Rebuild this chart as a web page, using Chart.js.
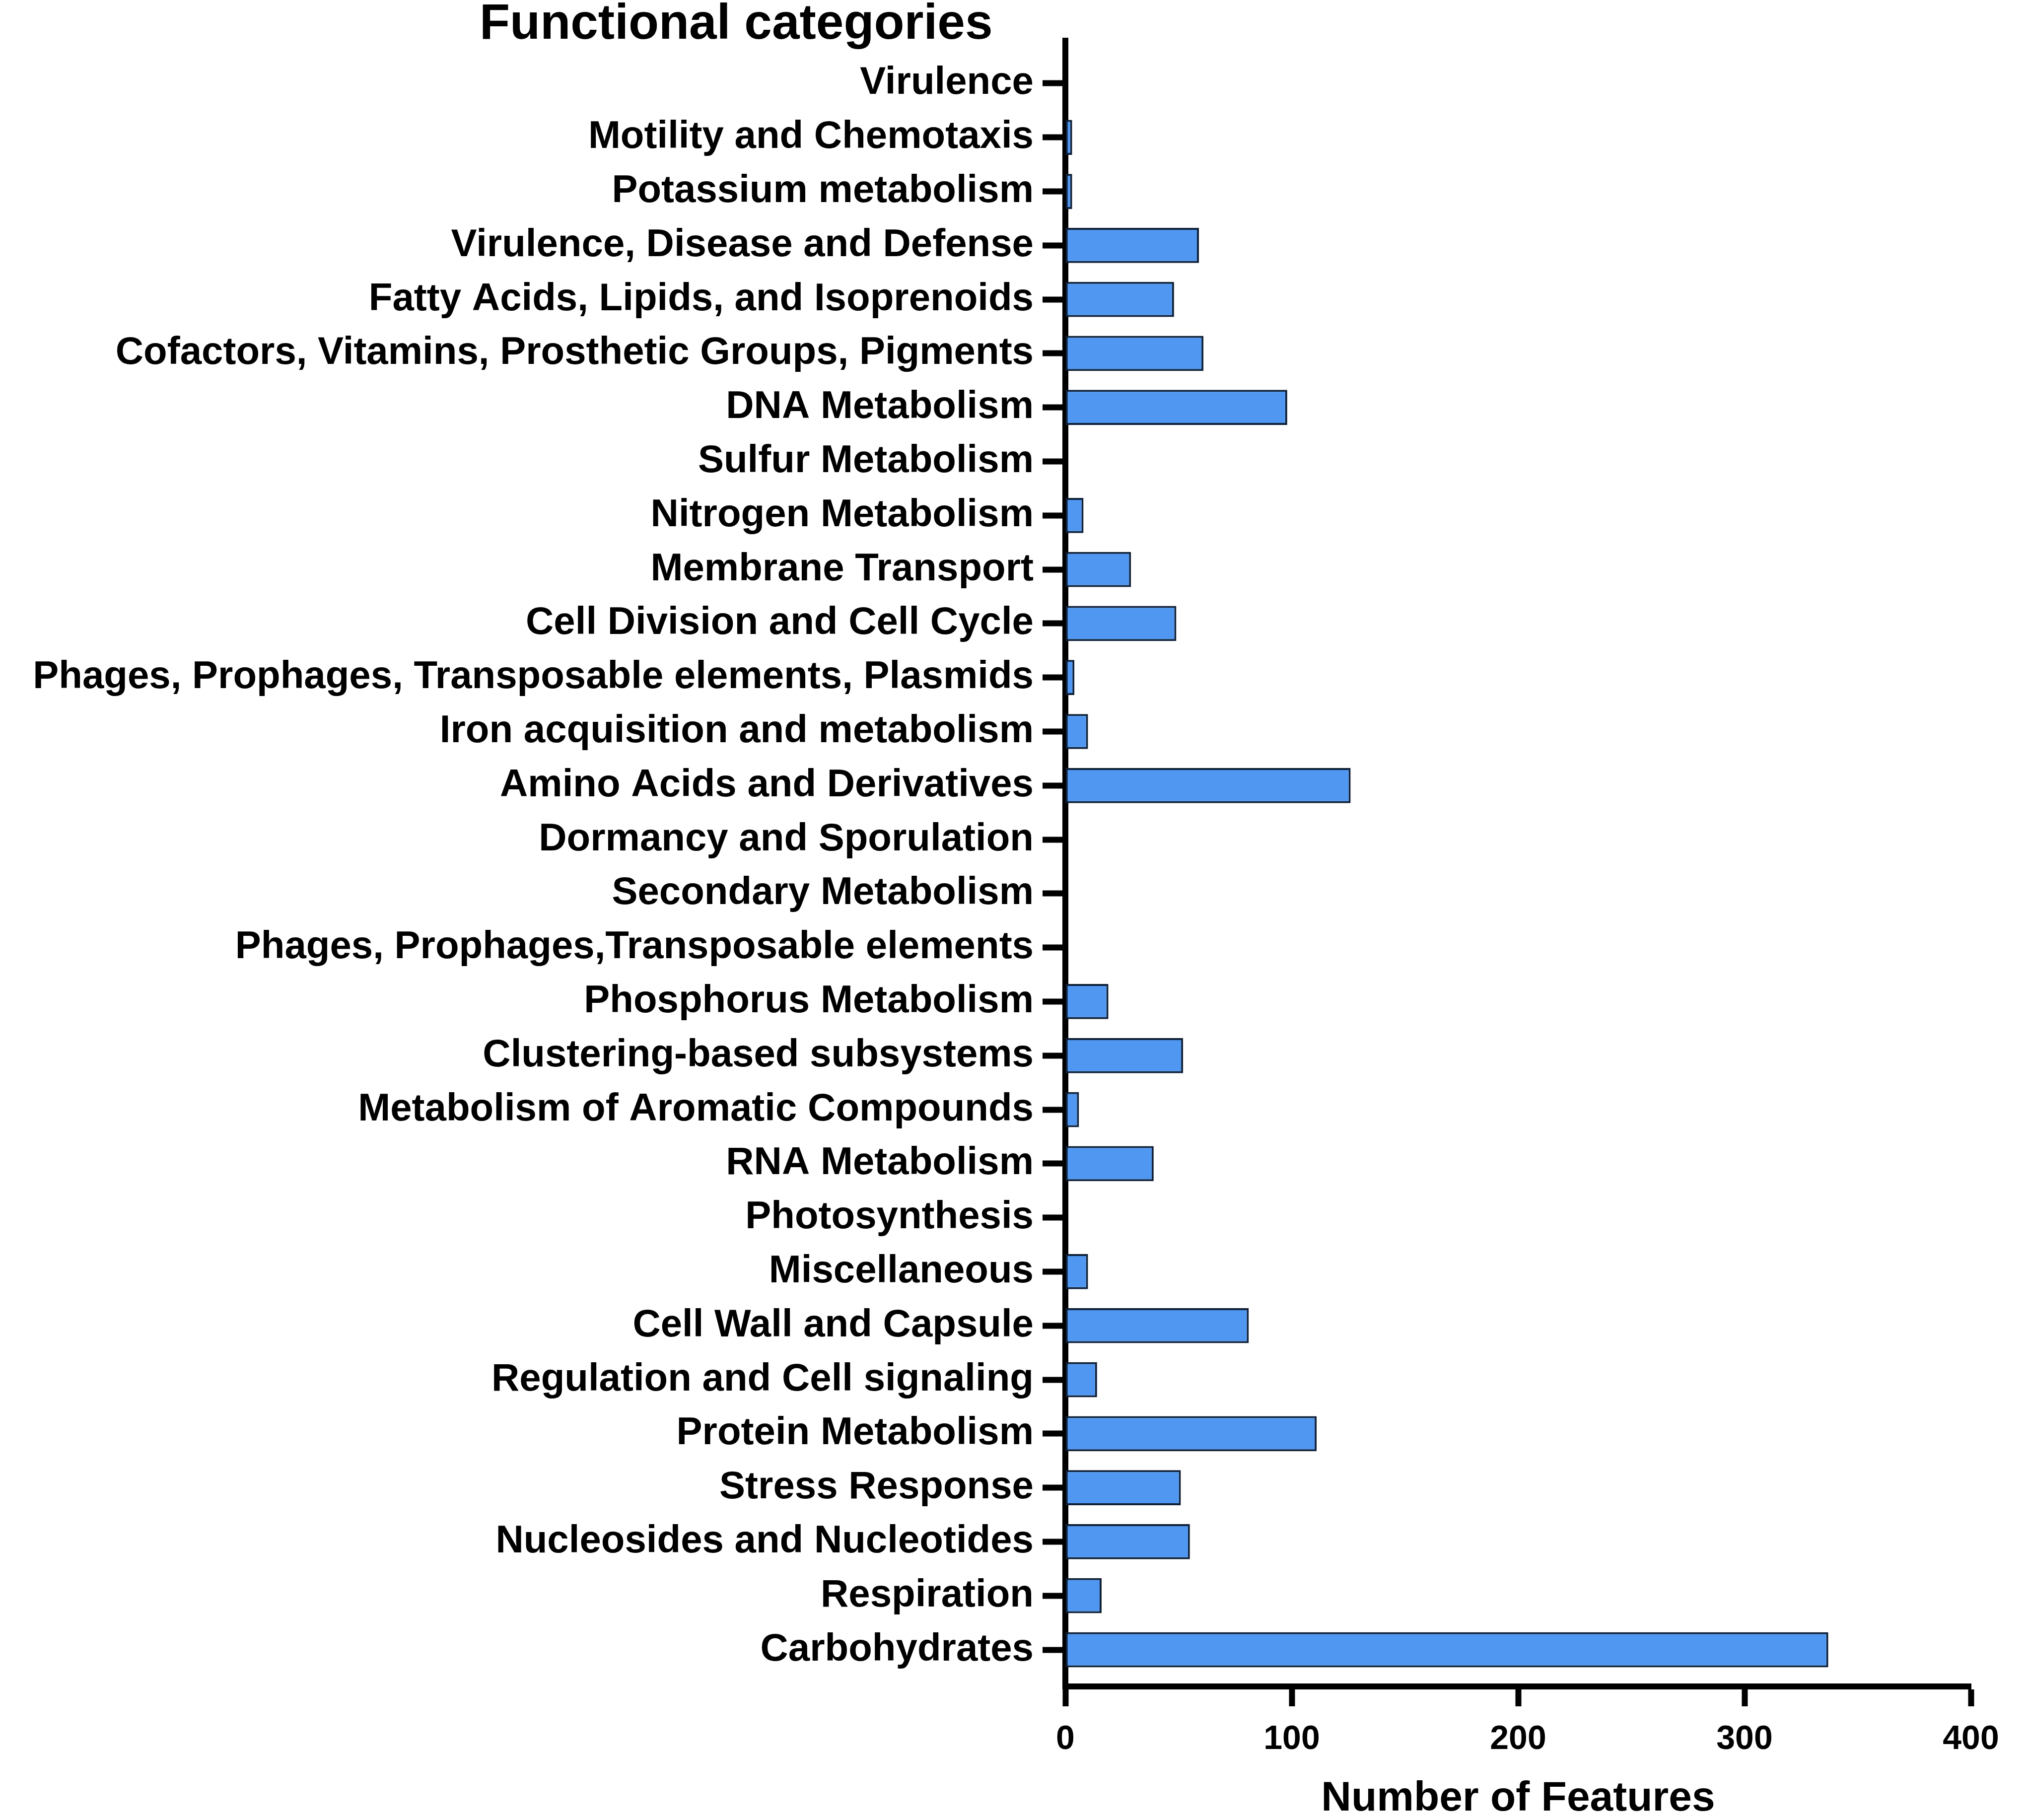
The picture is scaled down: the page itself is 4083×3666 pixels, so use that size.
<!DOCTYPE html>
<html>
<head>
<meta charset="utf-8">
<script src="https://cdn.jsdelivr.net/npm/chart.js@4.4.0/dist/chart.umd.min.js"></script>
<style>
  html, body { margin: 0; padding: 0; background: #ffffff; }
  #wrap { width: 4083px; height: 3666px; position: relative; }
</style>
</head>
<body>
<div id="wrap"><canvas id="c" width="4083" height="3666"></canvas></div>
<script>
const chartTitle = 'Functional categories';
const axisTitle = 'Number of Features';
const categories = [
  'Virulence',
  'Motility and Chemotaxis',
  'Potassium metabolism',
  'Virulence, Disease and Defense',
  'Fatty Acids, Lipids, and Isoprenoids',
  'Cofactors, Vitamins, Prosthetic Groups, Pigments',
  'DNA Metabolism',
  'Sulfur Metabolism',
  'Nitrogen Metabolism',
  'Membrane Transport',
  'Cell Division and Cell Cycle',
  'Phages, Prophages, Transposable elements, Plasmids',
  'Iron acquisition and metabolism',
  'Amino Acids and Derivatives',
  'Dormancy and Sporulation',
  'Secondary Metabolism',
  'Phages, Prophages,Transposable elements',
  'Phosphorus Metabolism',
  'Clustering-based subsystems',
  'Metabolism of Aromatic Compounds',
  'RNA Metabolism',
  'Photosynthesis',
  'Miscellaneous',
  'Cell Wall and Capsule',
  'Regulation and Cell signaling',
  'Protein Metabolism',
  'Stress Response',
  'Nucleosides and Nucleotides',
  'Respiration',
  'Carbohydrates'
];
const features = [
  0, 3, 3, 59, 48, 61, 98, 0, 8, 29,
  49, 4, 10, 126, 0, 0, 0, 19, 52, 6,
  39, 0, 10, 81, 14, 111, 51, 55, 16, 337
];
const xTicks = [0, 100, 200, 300, 400];

const FONT = '"Liberation Sans", Arial, Helvetica, sans-serif';

// category index axis drawn as a numeric band axis so that the axis lines
// can run a little past the first and last bands, as in the original figure
const points = features.map((v, i) => ({ x: v, y: i }));

const titlePlugin = {
  id: 'figTitle',
  afterDraw(chart) {
    const ctx = chart.ctx;
    ctx.save();
    ctx.fillStyle = '#000';
    ctx.font = 'bold 100px ' + FONT;
    ctx.textAlign = 'left';
    ctx.textBaseline = 'alphabetic';
    ctx.fillText(chartTitle, 966, 78);
    ctx.restore();
  }
};

new Chart(document.getElementById('c'), {
  type: 'bar',
  data: {
    datasets: [{
      data: points,
      backgroundColor: '#4F97F0',
      borderColor: '#0F2038',
      borderWidth: 4,
      borderSkipped: false,
      categoryPercentage: 0.65,
      barPercentage: 1.0
    }]
  },
  options: {
    indexAxis: 'y',
    responsive: false,
    animation: false,
    devicePixelRatio: 1,
    layout: { padding: { top: 82, right: 113, bottom: 0, left: 0 } },
    plugins: {
      legend: { display: false },
      tooltip: { enabled: false },
      title: { display: false }
    },
    scales: {
      x: {
        type: 'linear',
        min: 0,
        max: 400,
        afterBuildTicks(scale) { scale.ticks = xTicks.map(v => ({ value: v })); },
        afterFit(scale) { scale.height = 3666 - 3397; },
        border: { display: true, color: '#000', width: 12 },
        grid: { display: true, drawOnChartArea: false, drawTicks: true, tickLength: 40, tickWidth: 12, tickColor: '#000' },
        ticks: { color: '#000', padding: 26, font: { family: FONT, weight: 'bold', size: 68 } },
        title: { display: true, text: axisTitle, color: '#000', padding: { top: 0, bottom: 0 }, font: { family: FONT, weight: 'bold', size: 84, lineHeight: 1 } }
      },
      y: {
        type: 'linear',
        reverse: true,
        offset: false,
        bounds: 'data',
        min: -0.79,
        max: categories.length - 0.32,
        afterBuildTicks(scale) { scale.ticks = categories.map((c, i) => ({ value: i })); },
        afterFit(scale) { scale.width = 2146; },
        border: { display: true, color: '#000', width: 12 },
        grid: { display: true, offset: false, drawOnChartArea: false, drawTicks: true, tickLength: 46, tickWidth: 12, tickColor: '#000' },
        ticks: {
          color: '#000', padding: 18, autoSkip: false,
          font: { family: FONT, weight: 'bold', size: 78 },
          callback: (v) => categories[v]
        }
      }
    }
  },
  plugins: [titlePlugin]
});
</script>
</body>
</html>
